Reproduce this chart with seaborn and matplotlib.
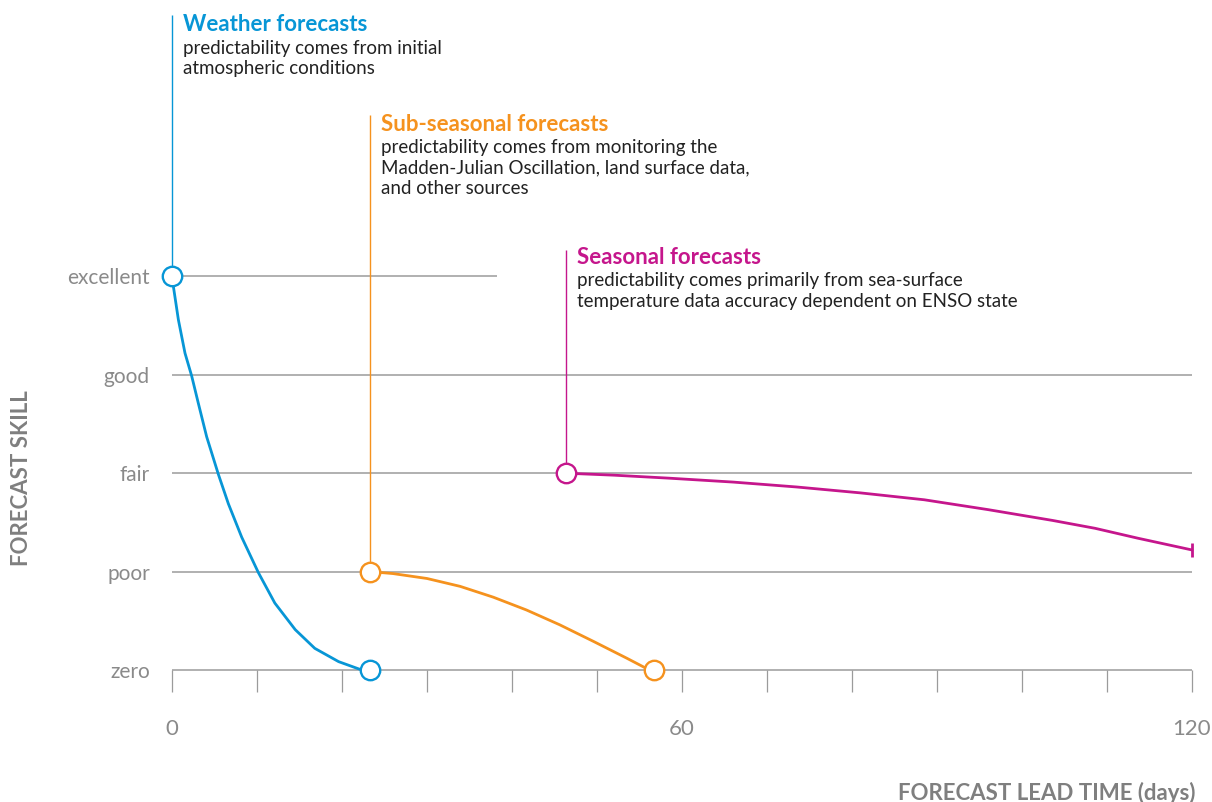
import numpy as np
import pandas as pd
import seaborn as sns
from matplotlib import pyplot as plt
from matplotlib.ticker import FixedLocator, MultipleLocator

sns.set_style('white')
plt.rcParams['font.family'] = ['Lato', 'DejaVu Sans']

# skill levels
skill_labels = ['zero', 'poor', 'fair', 'good', 'excellent']
skill_levels = [0, 1, 2, 3, 4]
grid_ends = [120, 120, 120, 120, 38.2]

# curves (days, skill level)
weather_days = [0, 0.16, 0.75, 1.53, 2.31, 3.1, 4.08, 5.45, 6.63, 8.2, 10.16,
                12.1, 14.5, 16.8, 19.6, 22.1, 23.3]
weather_skill = [4, 3.90, 3.56, 3.22, 2.99, 2.71, 2.37, 1.99, 1.69, 1.35, 0.99,
                 0.68, 0.41, 0.22, 0.085, 0.007, 0]

sub_days = [23.3, 26.0, 30.0, 33.9, 37.8, 41.7, 45.6, 49.6, 53.5, 55.5, 56.7]
sub_skill = [1.0, 0.98, 0.93, 0.85, 0.74, 0.61, 0.46, 0.29, 0.12, 0.03, 0]

seas_days = [46.4, 52, 58.4, 66, 73.5, 81, 88.5, 96, 103.6, 108.6, 113.6, 120]
seas_skill = [2.0, 1.98, 1.95, 1.91, 1.86, 1.80, 1.73, 1.63, 1.52, 1.44, 1.34, 1.22]

BLUE = '#0796d6'
ORANGE = '#f5921e'
MAGENTA = '#c5168c'
GRID = '#9b9b9b'
LABEL = '#8a8a8a'

notes = [
    ('Weather forecasts', ['predictability comes from initial', 'atmospheric conditions'],
     BLUE, weather_days[0], weather_skill[0], 6.657, 6.49),
    ('Sub-seasonal forecasts', ['predictability comes from monitoring the',
                                'Madden-Julian Oscillation, land surface data,',
                                'and other sources'],
     ORANGE, sub_days[0], sub_skill[0], 5.64, 5.48),
    ('Seasonal forecasts', ['predictability comes primarily from sea-surface',
                            'temperature data accuracy dependent on ENSO state'],
     MAGENTA, seas_days[0], seas_skill[0], 4.27, 4.13),
]

fig = plt.figure(figsize=(12.12, 8.02), dpi=100)
ax = fig.add_axes([172 / 1212, 1 - 670 / 802, 1020 / 1212, 655 / 802])
ax.set_xlim(0, 120)
ax.set_ylim(0, 6.657)

# grid lines
for lvl, end in zip(skill_levels, grid_ends):
    ax.hlines(lvl, 0, end, color=GRID, lw=1.1, zorder=1, clip_on=False)

# annotation stems and texts
for title, body, col, x0, y0, ytop, ytitle in notes:
    ax.vlines(x0, y0, ytop, color=col, lw=1.0, zorder=2, clip_on=False)
    ax.text(x0 + 1.3, ytitle, title, color=col, fontsize=16, fontweight='bold',
            va='baseline', ha='left')
    for i, line in enumerate(body):
        ax.text(x0 + 1.3, ytitle - 0.229 - i * 0.208, line, color='#222222',
                fontsize=13.5, va='baseline', ha='left')

# curves
curves = pd.concat([
    pd.DataFrame({'day': weather_days, 'skill': weather_skill, 'kind': 'weather'}),
    pd.DataFrame({'day': sub_days, 'skill': sub_skill, 'kind': 'sub'}),
    pd.DataFrame({'day': seas_days, 'skill': seas_skill, 'kind': 'seasonal'}),
])
palette = {'weather': BLUE, 'sub': ORANGE, 'seasonal': MAGENTA}
sns.lineplot(data=curves, x='day', y='skill', hue='kind', palette=palette,
             sort=False, estimator=None, lw=2.0, legend=False, ax=ax, zorder=3)
for ln in ax.get_lines():
    ln.set_clip_on(False)
    ln.set_solid_joinstyle('round')

# open circle markers at start/end
for d, s, c in [(weather_days, weather_skill, BLUE), (sub_days, sub_skill, ORANGE)]:
    ax.plot([d[0], d[-1]], [s[0], s[-1]], 'o', ms=14, mfc='white', mec=c, mew=1.7,
            zorder=5, clip_on=False)
ax.plot(seas_days[0], seas_skill[0], 'o', ms=14, mfc='white', mec=MAGENTA, mew=1.7,
        zorder=5, clip_on=False)
ax.plot(seas_days[-1], seas_skill[-1], '|', ms=10, mec=MAGENTA, mew=2.0,
        zorder=5, clip_on=False)

# axes styling
sns.despine(ax=ax, left=True, bottom=True)
ax.set_yticks(skill_levels)
ax.set_yticklabels(skill_labels)
ax.tick_params(axis='y', left=False, length=0, pad=16, labelsize=15, labelcolor=LABEL)
ax.xaxis.set_major_locator(FixedLocator([0, 60, 120]))
ax.xaxis.set_minor_locator(MultipleLocator(10))
ax.tick_params(axis='x', which='both', bottom=True, direction='out', length=16,
               width=0.9, color=GRID, pad=19, labelsize=16, labelcolor=LABEL)
ax.set_xlabel('')
ax.set_ylabel('')

fig.text(22 / 1212, 1 - 478 / 802, 'FORECAST SKILL', rotation=90, ha='center',
         va='center', fontsize=16, fontweight='bold', color='#7f7f7f')
fig.text(1196 / 1212, 1 - 793 / 802, 'FORECAST LEAD TIME (days)', ha='right',
         va='center', fontsize=16, fontweight='bold', color='#7f7f7f')

fig.savefig('out.png', dpi=100)
